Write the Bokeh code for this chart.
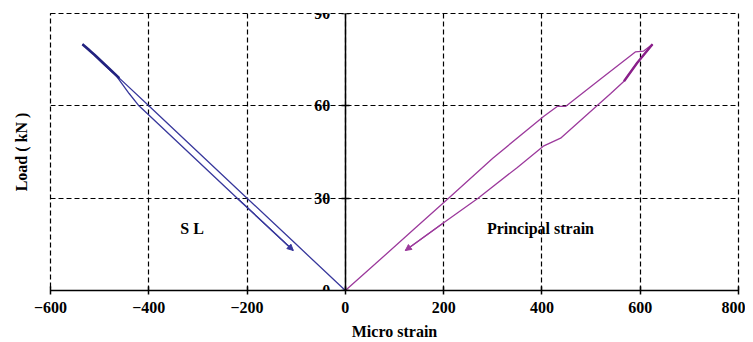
from bokeh.plotting import figure
from bokeh.models import LinearAxis, FixedTicker, Label, Arrow, NormalHead
from bokeh.embed import file_html
from bokeh.resources import INLINE

# ---- data ----
x_ticks = [-600, -400, -200, 0, 200, 400, 600, 800]
y_ticks = [0, 30, 60, 90]

# S L (loading then unloading)
sl_strain = [0, -100, -200, -300, -400, -460, -490, -510, -535,
             -520, -495, -465, -440, -420, -320, -220, -106]
sl_load = [0, 15, 30, 45, 60, 69, 73.5, 76.5, 80,
           78, 74, 69.5, 64, 60, 45, 30, 13]

# Principal strain (loading then unloading)
ps_strain = [0, 60, 140, 210, 300, 404, 431, 448, 520, 590, 607, 625,
             594, 567, 540, 512, 438, 404, 350, 270, 200, 122]
ps_load = [0, 8.5, 20, 30, 43, 56.6, 59.8, 59.8, 68.8, 77.5, 77.8, 80,
           74, 68, 64, 60, 49.5, 47, 40, 30, 22, 13]

BLUE = "#38389c"
PURPLE = "#9c3a9c"
FONT = "Liberation Serif"

p = figure(width=745, height=342, x_range=(-600, 800), y_range=(0, 90),
           output_backend="svg", toolbar_location=None,
           min_border_left=50, min_border_right=7, min_border_top=13,
           min_border_bottom=0)
p.outline_line_color = "black"
p.outline_line_dash = "5 3"
p.outline_line_width = 1.2
p.background_fill_color = "white"
p.border_fill_color = "white"

# x axis (bottom)
xa = p.xaxis[0]
xa.ticker = FixedTicker(ticks=x_ticks)
xa.axis_line_color = "black"
xa.axis_line_width = 1.5
xa.major_tick_in = 4
xa.major_tick_out = 4
xa.major_tick_line_width = 1.5
xa.minor_tick_line_color = None
xa.major_label_standoff = 7
xa.major_label_text_font = FONT
xa.major_label_text_font_style = "bold"
xa.major_label_text_font_size = "16px"
xa.major_label_text_color = "black"
xa.axis_label = "Micro strain"
xa.axis_label_standoff = 7
xa.axis_label_text_font = FONT
xa.axis_label_text_font_style = "bold"
xa.axis_label_text_font_size = "16px"
xa.axis_label_text_color = "black"

# y axis at x = 0
ya = p.yaxis[0]
ya.fixed_location = 0
ya.ticker = FixedTicker(ticks=y_ticks)
ya.axis_line_color = "black"
ya.axis_line_width = 1.5
ya.major_tick_in = 4
ya.major_tick_out = 4
ya.major_tick_line_width = 1.5
ya.minor_tick_line_color = None
ya.major_label_standoff = 11
ya.major_label_text_font = FONT
ya.major_label_text_font_style = "bold"
ya.major_label_text_font_size = "16px"
ya.major_label_text_color = "black"

# y axis title on the far left
ta = LinearAxis(ticker=FixedTicker(ticks=[]), axis_label="Load ( kN )",
                axis_line_color=None, major_tick_line_color=None,
                minor_tick_line_color=None, major_tick_out=0, major_tick_in=0,
                major_label_standoff=0, axis_label_standoff=21,
                axis_label_text_font=FONT, axis_label_text_font_style="bold",
                axis_label_text_font_size="16px", axis_label_text_color="black")
p.add_layout(ta, "left")

for g in (p.xgrid[0], p.ygrid[0]):
    g.grid_line_color = "black"
    g.grid_line_width = 1.2
    g.grid_line_dash = "5 3"

p.line(sl_strain, sl_load, line_color=BLUE, line_width=1.3)
# heavier, overlapping trace near the peak
p.line(sl_strain[5:10], sl_load[5:10], line_color="#22227f", line_width=2.6)
p.line(ps_strain, ps_load, line_color=PURPLE, line_width=1.3)
p.line(ps_strain[11:14], ps_load[11:14], line_color="#8a1f8a", line_width=2.4)

p.add_layout(Arrow(end=NormalHead(size=6, fill_color=BLUE, line_color=BLUE),
                   x_start=sl_strain[-2], y_start=sl_load[-2],
                   x_end=sl_strain[-1], y_end=sl_load[-1],
                   line_color=BLUE, line_width=1.3))
p.add_layout(Arrow(end=NormalHead(size=6, fill_color=PURPLE, line_color=PURPLE),
                   x_start=ps_strain[-2], y_start=ps_load[-2],
                   x_end=ps_strain[-1], y_end=ps_load[-1],
                   line_color=PURPLE, line_width=1.3))

p.add_layout(Label(x=-312, y=20, text="S L", text_align="center",
                   text_baseline="middle", text_font=FONT,
                   text_font_style="bold", text_font_size="16px",
                   text_color="black"))
p.add_layout(Label(x=397, y=20, text="Principal strain", text_align="center",
                   text_baseline="middle", text_font=FONT,
                   text_font_style="bold", text_font_size="16px",
                   text_color="black"))

open("out.html", "w").write(file_html(p, INLINE))
